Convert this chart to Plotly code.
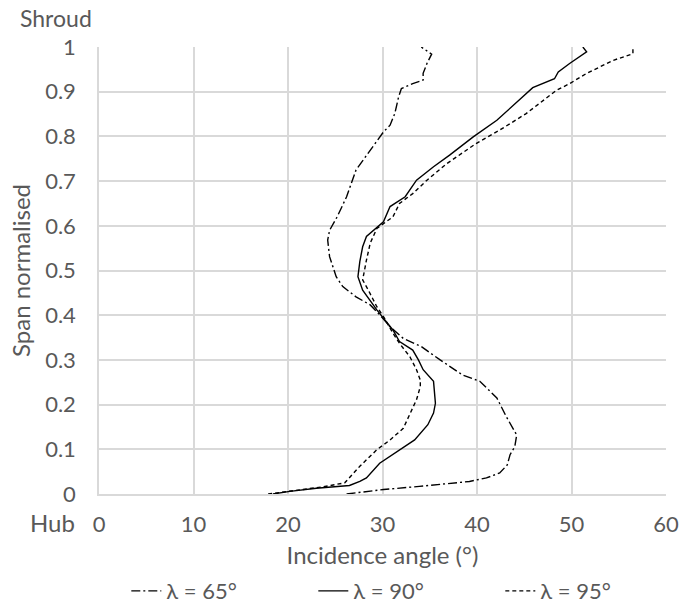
import plotly.graph_objects as go

# lambda = 65 deg (dash-dot)
span_65 = [0, 0.010, 0.017, 0.023, 0.028, 0.036, 0.047, 0.065, 0.088, 0.106, 0.132, 0.173, 0.215,
           0.252, 0.266, 0.300, 0.330, 0.348, 0.374, 0.401, 0.423, 0.441, 0.464, 0.486, 0.531,
           0.568, 0.590, 0.620, 0.665, 0.725, 0.769, 0.810, 0.825, 0.851, 0.888, 0.907, 0.918,
           0.926, 0.941, 0.963, 0.984, 1.0]
inc_65 = [26.2, 30.1, 33.9, 36.8, 39.2, 41.0, 42.4, 43.2, 43.5, 44.0, 44.2, 43.1, 42.1,
          40.3, 38.5, 36.1, 34.1, 32.2, 30.8, 29.7, 28.7, 27.2, 25.8, 25.1, 24.4,
          24.2, 24.4, 25.2, 26.2, 27.2, 28.7, 30.1, 30.8, 31.3, 31.7, 32.0, 33.2,
          34.3, 34.3, 34.7, 35.2, 34.1]

# lambda = 90 deg (solid)
span_90 = [0, 0.006, 0.013, 0.019, 0.028, 0.036, 0.069, 0.095, 0.121, 0.155, 0.181, 0.203, 0.225,
           0.252, 0.278, 0.300, 0.322, 0.341, 0.367, 0.397, 0.412, 0.456, 0.486, 0.520, 0.553,
           0.576, 0.609, 0.643, 0.665, 0.702, 0.732, 0.758, 0.799, 0.836, 0.870, 0.903, 0.909,
           0.929, 0.944, 0.963, 0.978, 0.989, 1.0]
inc_90 = [18.4, 20.2, 23.0, 26.5, 27.6, 28.3, 29.7, 31.5, 33.4, 34.8, 35.4, 35.6, 35.5,
          35.4, 34.3, 33.8, 33.2, 31.8, 31.1, 29.9, 29.4, 27.9, 27.4, 27.6, 27.9,
          28.3, 30.1, 30.8, 32.4, 33.6, 35.4, 37.1, 39.6, 42.1, 43.9, 45.6, 45.9,
          48.2, 48.6, 49.8, 50.9, 51.6, 51.2]

# lambda = 95 deg (dashed)
span_95 = [0, 0.007, 0.016, 0.025, 0.036, 0.062, 0.099, 0.121, 0.147, 0.181, 0.211, 0.240, 0.255,
           0.278, 0.307, 0.337, 0.360, 0.397, 0.419, 0.456, 0.479, 0.523, 0.561, 0.594, 0.620,
           0.650, 0.672, 0.702, 0.739, 0.784, 0.814, 0.851, 0.903, 0.918, 0.941, 0.970, 0.985, 1.0]
inc_95 = [17.9, 20.2, 23.7, 26.0, 26.5, 27.6, 29.4, 30.8, 32.2, 32.9, 33.6, 34.0, 34.0,
          33.6, 32.9, 31.8, 31.1, 30.1, 29.4, 28.5, 27.9, 28.3, 28.7, 29.4, 31.1,
          31.8, 33.2, 34.7, 36.8, 39.9, 42.4, 45.2, 48.4, 49.8, 51.6, 54.4, 56.5, 56.5]

x_ticks = [0, 10, 20, 30, 40, 50, 60]
y_ticks = [0, 0.1, 0.2, 0.3, 0.4, 0.5, 0.6, 0.7, 0.8, 0.9, 1]
y_tick_labels = ["0", "0.1", "0.2", "0.3", "0.4", "0.5", "0.6", "0.7", "0.8", "0.9", "1"]

FONT = "Lato, Carlito, Calibri, sans-serif"
TICK_FS = 22
TITLE_FS = 24
GREY = "#595959"
GRID = "#d9d9d9"

fig = go.Figure()
fig.add_trace(go.Scatter(x=inc_65, y=span_65, mode="lines", name="λ = 65°",
                         line=dict(color="black", width=1.4, dash="9px,3px,2px,3px")))
fig.add_trace(go.Scatter(x=inc_90, y=span_90, mode="lines", name="λ = 90°",
                         line=dict(color="black", width=1.4)))
fig.add_trace(go.Scatter(x=inc_95, y=span_95, mode="lines", name="λ = 95°",
                         line=dict(color="black", width=1.4, dash="4px,3px")))

fig.update_layout(
    width=694, height=610,
    margin=dict(l=99, r=28, t=47, b=116, autoexpand=False),
    paper_bgcolor="white", plot_bgcolor="white",
    font=dict(family=FONT, size=TICK_FS, color=GREY),
    showlegend=True,
    legend=dict(orientation="h", xref="container", x=0.182, xanchor="left",
                yref="container", y=0.031, yanchor="middle",
                entrywidth=142, entrywidthmode="pixels",
                font=dict(family=FONT, size=TICK_FS, color=GREY)),
    xaxis=dict(range=[0, 60], tickvals=x_ticks, showgrid=True, gridcolor=GRID, gridwidth=1.5,
               showline=True, linecolor=GRID, linewidth=1.5, zeroline=False, automargin=False,
               ticks="", ticklabelstandoff=10, fixedrange=True,
               tickfont=dict(family=FONT, size=TICK_FS, color=GREY),
               title=dict(text="Incidence angle (°)", standoff=11,
                          font=dict(family=FONT, size=TITLE_FS, color=GREY))),
    yaxis=dict(range=[0, 1], tickvals=y_ticks, ticktext=y_tick_labels, showgrid=True,
               gridcolor=GRID, gridwidth=1.5, showline=True, linecolor=GRID, linewidth=1.5,
               zeroline=False, automargin=False, ticks="", ticklabelstandoff=17, fixedrange=True,
               tickfont=dict(family=FONT, size=TICK_FS, color=GREY),
               title=dict(text="Span normalised", standoff=8,
                          font=dict(family=FONT, size=TITLE_FS, color=GREY))),
    annotations=[
        dict(text="Shroud", xref="paper", yref="paper", x=-0.0088, y=1.0, xanchor="right",
             yanchor="middle", yshift=29, showarrow=False,
             font=dict(family=FONT, size=23, color=GREY)),
        dict(text="Hub", xref="paper", yref="paper", x=-0.0388, y=0.0, xanchor="right",
             yanchor="middle", yshift=-28, showarrow=False,
             font=dict(family=FONT, size=TITLE_FS, color=GREY)),
    ],
)

fig.write_html("out.html")
